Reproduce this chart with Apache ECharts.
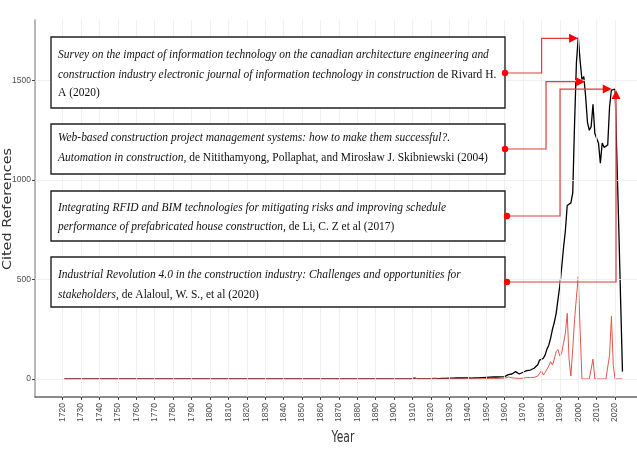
<!DOCTYPE html>
<html>
<head>
<meta charset="utf-8">
<script src="https://cdn.jsdelivr.net/npm/echarts@6/dist/echarts.min.js"></script>
<style>
html, body { margin: 0; padding: 0; background: #fff; }
#main { width: 637px; height: 455px; }
</style>
</head>
<body>
<div id="main"></div>
<script>
// years (sparse before 1920, yearly afterwards)
var years = [1721, 1775, 1776, 1777, 1909, 1910, 1911, 1912, 1913,
    1920, 1921, 1922, 1923, 1924, 1925, 1926, 1927, 1928, 1929,
    1930, 1931, 1932, 1933, 1934, 1935, 1936, 1937, 1938, 1939,
    1940, 1941, 1942, 1943, 1944, 1945, 1946, 1947, 1948, 1949,
    1950, 1951, 1952, 1953, 1954, 1955, 1956, 1957, 1958, 1959,
    1960, 1961, 1962, 1963, 1964, 1965, 1966, 1967, 1968, 1969,
    1970, 1971, 1972, 1973, 1974, 1975, 1976, 1977, 1978, 1979,
    1980, 1981, 1982, 1983, 1984, 1985, 1986, 1987, 1988, 1989,
    1990, 1991, 1992, 1993, 1994, 1995, 1996, 1997, 1998, 1999,
    2000, 2001, 2002, 2003, 2004, 2005, 2006, 2007, 2008, 2009,
    2010, 2011, 2012, 2013, 2014, 2015, 2016, 2017, 2018, 2019,
    2020, 2021, 2022, 2023, 2024];

// cited references (black line)
var cited = [0, 0, 5, 0, 0, 2, 4, 2, 1,
    2, 2, 3, 2, 2, 3, 3, 3, 3, 4,
    4, 4, 4, 4, 5, 5, 5, 5, 5, 5,
    5, 5, 4, 5, 6, 6, 6, 6, 7, 7,
    8, 16, 9, 9, 10, 10, 10, 11, 11, 12,
    12, 14, 22, 19, 25, 28, 37, 38, 25, 30,
    34, 31, 42, 45, 45, 50, 54, 62, 72, 95,
    100, 104, 120, 150, 170, 205, 250, 285, 330, 400,
    470, 560, 660, 745, 872, 880, 885, 935, 1285, 1590,
    1717, 1600, 1505, 1520, 1420, 1290, 1250, 1268, 1380, 1234,
    1243, 1185, 1084, 1186, 1164, 1160, 1176, 1368, 1452, 1444,
    1457, 1100, 760, 400, 37];

// references of the highlighted works (red line)
var highlighted = [0, 0, 8, 0, 0, 3, 5, 2, 0,
    0, 0, 2, 0, 0, 0, 0, 0, 0, 0,
    0, 0, 0, 0, 0, 1, 0, 0, 0, 0,
    2, 0, 0, 0, 0, 4, 0, 0, 1, 0,
    3, 12, 2, 1, 2, 3, 2, 3, 4, 3,
    4, 6, 10, 5, 6, 9, 4, 12, 3, 5,
    4, 5, 8, 6, 7, 10, 8, 12, 15, 20,
    42, 20, 32, 22, 65, 87, 70, 100, 137, 148,
    115, 130, 180, 230, 330, 100, 15, 150, 300, 410,
    515, 250, 0, 0, 0, 0, 0, 0, 100, 0,
    0, 0, 0, 0, 0, 0, 0, 120, 315, 70,
    0, 0, 0, 0, 0];

var xTicks = [1720, 1730, 1740, 1750, 1760, 1770, 1780, 1790, 1800, 1810,
    1820, 1830, 1840, 1850, 1860, 1870, 1880, 1890, 1900, 1910,
    1920, 1930, 1940, 1950, 1960, 1970, 1980, 1990, 2000, 2010, 2020];
var yTicks = [0, 500, 1000, 1500];

// annotation texts: i = italic, n = normal
var notes = [
    [[['i', 'Survey on the impact of information technology on the canadian architecture engineering and']],
     [['i', 'construction industry electronic journal of information technology in construction'], ['n', ' de Rivard H.']],
     [['n', 'A (2020)']]],
    [[['i', 'Web-based construction project management systems: how to make them successful?.']],
     [['i', 'Automation in construction,'], ['n', ' de Nitithamyong, Pollaphat, and Mirosław J. Skibniewski (2004)']]],
    [[['i', 'Integrating RFID and BIM technologies for mitigating risks and improving schedule']],
     [['i', 'performance of prefabricated house construction,'], ['n', ' de Li, C. Z et al (2017)']]],
    [[['i', 'Industrial Revolution 4.0 in the construction industry: Challenges and opportunities for']],
     [['i', 'stakeholders,'], ['n', ' de Alaloul, W. S., et al (2020)']]]
];
// arrow targets in data space: [elbow year, tip year, tip value]
var arrowTargets = [[1980.1, 1999.9, 1712], [1982.5, 2003.7, 1494], [1990.1, 2018.2, 1457], [2020.5, 2020.5, 1452]];

(function(){
    var chart = echarts.init(document.getElementById('main'));
    var textColor = '#4d4d4d';
    var gridColor = '#ececec';

    // panel grid lines drawn as mark lines behind the data
    var gridLines = xTicks.map(function(v){ return { xAxis: v }; })
        .concat(yTicks.map(function(v){ return { yAxis: v }; }));

    chart.setOption({
        animation: false,
        grid: { left: 35, right: -14, top: 20, bottom: 58, containLabel: false, outerBoundsMode: 'none' },
        xAxis: {
            type: 'value', min: 1705, max: 2039.5,
            axisLine: { show: true, onZero: false, lineStyle: { color: '#666', width: 1.5 } },
            axisTick: { show: true, length: 3, customValues: xTicks, lineStyle: { color: '#444' } },
            axisLabel: {
                customValues: xTicks, rotate: 90, margin: 6, fontSize: 8.5,
                color: textColor, fontFamily: 'Liberation Sans',
                formatter: function(v){ return String(v); }
            },
            splitLine: { show: false }
        },
        yAxis: {
            type: 'value', min: -90.5, max: 1804,
            axisLine: { show: true, onZero: false, lineStyle: { color: '#a0a0a0', width: 1.5 } },
            axisTick: { show: true, length: 3, customValues: yTicks, lineStyle: { color: '#444' } },
            axisLabel: {
                customValues: yTicks, margin: 4, fontSize: 8.5, color: textColor, fontFamily: 'Liberation Sans',
                formatter: function(v){ return String(v); }
            },
            splitLine: { show: false }
        },
        series: [
            {
                name: 'grid', type: 'line', data: [], z: 1, silent: true,
                markLine: {
                    silent: true, symbol: 'none', label: { show: false }, animation: false,
                    lineStyle: { color: gridColor, width: 0.8, type: 'solid' },
                    emphasis: { disabled: true },
                    data: gridLines
                }
            },
            {
                name: 'Cited References', type: 'line', symbol: 'none', z: 3,
                data: years.map(function(y, i){ return [y, cited[i]]; }),
                lineStyle: { color: '#000', width: 1.3 }
            },
            {
                name: 'Highlighted', type: 'line', symbol: 'none', z: 4,
                data: years.map(function(y, i){ return [y, highlighted[i]]; }),
                lineStyle: { color: '#e0564f', width: 1 }
            }
        ]
    });

    // box layout
    var boxes = [
        { x: 51, y: 37, w: 454, h: 71, lines: [54, 74, 92.5], dot: [505, 73] },
        { x: 51, y: 124, w: 454, h: 50, lines: [137.5, 157.5], dot: [505, 149] },
        { x: 51, y: 191, w: 454, h: 50, lines: [207, 226], dot: [507, 216] },
        { x: 51, y: 257, w: 454, h: 50, lines: [274, 294], dot: [507, 282] }
    ];
    var fontSize = 13.5;
    var ctx = document.createElement('canvas').getContext('2d');
    ctx.font = 'italic ' + fontSize + 'px "Liberation Serif"';
    var sx = 388 / ctx.measureText(notes[2][0][0][1]).width;

    var graphics = [];
    boxes.forEach(function(b, k){
        graphics.push({
            type: 'rect', z: 10,
            shape: { x: b.x, y: b.y, width: b.w, height: b.h },
            style: { fill: '#fff', stroke: '#222', lineWidth: 1.4 }
        });
        notes[k].forEach(function(segs, j){
            var txt = segs.map(function(s){ return '{' + s[0] + '|' + s[1] + '}'; }).join('');
            graphics.push({
                type: 'text', z: 11, x: 58, y: b.lines[j], scaleX: sx,
                style: {
                    text: txt, fill: '#111', verticalAlign: 'middle', align: 'left',
                    fontFamily: 'Liberation Serif', fontSize: fontSize,
                    rich: {
                        i: { fontStyle: 'italic', fontFamily: 'Liberation Serif', fontSize: fontSize, fill: '#111' },
                        n: { fontFamily: 'Liberation Serif', fontSize: fontSize, fill: '#111' }
                    }
                }
            });
        });
    });

    // arrows
    var red = '#f00';
    arrowTargets.forEach(function(a, k){
        var d = boxes[k].dot;
        var tip = chart.convertToPixel({ gridIndex: 0 }, [a[1], a[2]]);
        var elbowX = chart.convertToPixel({ gridIndex: 0 }, [a[0], 0])[0];
        var pts, head;
        if (a[0] === a[1]) {
            // vertical approach, head points up
            pts = [d, [tip[0], d[1]], [tip[0], tip[1] + 8]];
            head = [[tip[0], tip[1]], [tip[0] - 4.5, tip[1] + 9], [tip[0] + 4.5, tip[1] + 9]];
        } else {
            pts = [d, [elbowX, d[1]], [elbowX, tip[1]], [tip[0] - 8, tip[1]]];
            head = [[tip[0], tip[1]], [tip[0] - 9, tip[1] - 4.5], [tip[0] - 9, tip[1] + 4.5]];
        }
        graphics.push({
            type: 'polyline', z: 12, shape: { points: pts },
            style: { stroke: '#e23a3a', lineWidth: 1.2, fill: null }
        });
        graphics.push({ type: 'polygon', z: 13, shape: { points: head }, style: { fill: red } });
        graphics.push({ type: 'circle', z: 13, shape: { cx: d[0], cy: d[1], r: 3.2 }, style: { fill: red } });
    });

    // axis titles
    graphics.push({
        type: 'text', z: 11, x: 343, y: 438, scaleX: 0.72,
        style: { text: 'Year', fontFamily: 'DejaVu Sans', fontSize: 15, fill: '#333', align: 'center', verticalAlign: 'middle' }
    });
    graphics.push({
        type: 'text', z: 11, x: 8, y: 209, rotation: Math.PI / 2, scaleY: 0.8,
        style: { text: 'Cited References', fontFamily: 'DejaVu Sans', fontSize: 14.4, fill: '#333', align: 'center', verticalAlign: 'middle' }
    });

    chart.setOption({ graphic: graphics });
})();
</script>
</body>
</html>
